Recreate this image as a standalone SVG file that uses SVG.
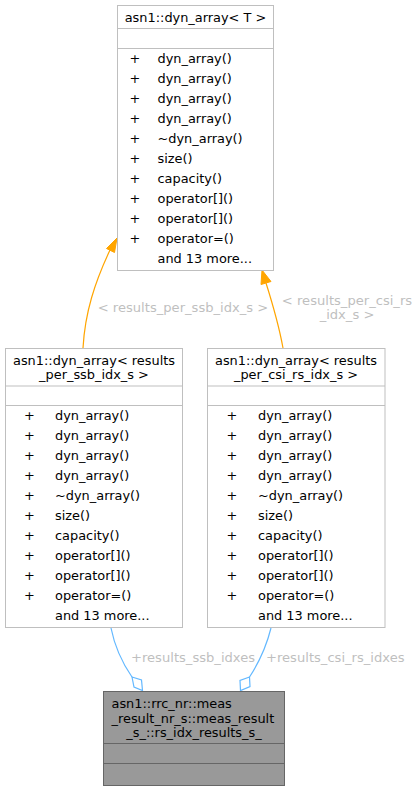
<svg xmlns="http://www.w3.org/2000/svg" width="418" height="791" viewBox="0 0 418 791">
<style>
text{font-family:"DejaVu Sans",sans-serif;font-size:12.9px;fill:#000}
.box{fill:#fff;stroke:#bfbfbf;stroke-width:1}
.sep{stroke:#bfbfbf;stroke-width:1}
.dark{fill:#999999;stroke:#666666;stroke-width:1}
.dsep{stroke:#666666;stroke-width:1}
.pl{text-anchor:middle}
.mid{text-anchor:middle}
.lbl{fill:#bfbfbf;font-size:13.1px}
.inh{fill:none;stroke:#ffa500;stroke-width:1.2}
.ah{fill:#ffa500;stroke:#ffa500}
.use{fill:none;stroke:#63b8ff;stroke-width:1.2}
.dia{fill:#fff;stroke:#63b8ff;stroke-width:1.2}
</style>
<g id="connectors">
<path class="inh" d="M83,348 C85,312 95,282 110,250"/>
<polygon class="ah" points="117,238 106.5,248.5 114.5,252.5"/>
<text class="lbl mid" x="183" y="312">&lt; results_per_ssb_idx_s &gt;</text>
<path class="inh" d="M283,348 C279,326 272,302 266,283"/>
<polygon class="ah" points="262,270 261,284.5 271,281.5"/>
<text class="lbl mid" x="347" y="305">&lt; results_per_csi_rs</text>
<text class="lbl mid" x="347" y="319">_idx_s &gt;</text>
<path class="use" d="M111,628 C115,648 123,664 132,677"/>
<polygon class="dia" points="132,677 141.5,680 142.5,690.5 134,687"/>
<text class="lbl" x="131" y="662">+results_ssb_idxes</text>
<path class="use" d="M271,628 C266,648 258,664 249.5,677"/>
<polygon class="dia" points="249.5,677 250,686.5 240.5,690.5 240,680.5"/>
<text class="lbl" x="266" y="662">+results_csi_rs_idxes</text>
</g>
<g id="node_dyn_array_T">
<rect class="box" x="117.5" y="5.5" width="156" height="265"/>
<line class="sep" x1="117.5" y1="28.5" x2="273.5" y2="28.5"/>
<line class="sep" x1="117.5" y1="48.5" x2="273.5" y2="48.5"/>
<text class="mid" x="195.5" y="22">asn1::dyn_array&lt; T &gt;</text>
<text class="pl" x="135" y="62.5">+</text><text x="157.5" y="62.5">dyn_array()</text>
<text class="pl" x="135" y="82.5">+</text><text x="157.5" y="82.5">dyn_array()</text>
<text class="pl" x="135" y="102.5">+</text><text x="157.5" y="102.5">dyn_array()</text>
<text class="pl" x="135" y="122.5">+</text><text x="157.5" y="122.5">dyn_array()</text>
<text class="pl" x="135" y="142.5">+</text><text x="157.5" y="142.5">~dyn_array()</text>
<text class="pl" x="135" y="162.5">+</text><text x="157.5" y="162.5">size()</text>
<text class="pl" x="135" y="182.5">+</text><text x="157.5" y="182.5">capacity()</text>
<text class="pl" x="135" y="202.5">+</text><text x="157.5" y="202.5">operator[]()</text>
<text class="pl" x="135" y="222.5">+</text><text x="157.5" y="222.5">operator[]()</text>
<text class="pl" x="135" y="242.5">+</text><text x="157.5" y="242.5">operator=()</text>
<text x="157.5" y="262.5">and 13 more...</text>
</g>
<g id="node_dyn_array_ssb">
<rect class="box" x="5.5" y="348.5" width="177" height="279"/>
<line class="sep" x1="5.5" y1="386" x2="182.5" y2="386"/>
<line class="sep" x1="5.5" y1="405.5" x2="182.5" y2="405.5"/>
<text x="13" y="364.5">asn1::dyn_array&lt; results</text>
<text class="mid" x="94" y="379">_per_ssb_idx_s &gt;</text>
<text class="pl" x="29.5" y="419.5">+</text><text x="55" y="419.5">dyn_array()</text>
<text class="pl" x="29.5" y="439.5">+</text><text x="55" y="439.5">dyn_array()</text>
<text class="pl" x="29.5" y="459.5">+</text><text x="55" y="459.5">dyn_array()</text>
<text class="pl" x="29.5" y="479.5">+</text><text x="55" y="479.5">dyn_array()</text>
<text class="pl" x="29.5" y="499.5">+</text><text x="55" y="499.5">~dyn_array()</text>
<text class="pl" x="29.5" y="519.5">+</text><text x="55" y="519.5">size()</text>
<text class="pl" x="29.5" y="539.5">+</text><text x="55" y="539.5">capacity()</text>
<text class="pl" x="29.5" y="559.5">+</text><text x="55" y="559.5">operator[]()</text>
<text class="pl" x="29.5" y="579.5">+</text><text x="55" y="579.5">operator[]()</text>
<text class="pl" x="29.5" y="599.5">+</text><text x="55" y="599.5">operator=()</text>
<text x="55" y="619.5">and 13 more...</text>
</g>
<g id="node_dyn_array_csi">
<rect class="box" x="207.5" y="348.5" width="177.5" height="279"/>
<line class="sep" x1="207.5" y1="386" x2="385" y2="386"/>
<line class="sep" x1="207.5" y1="405.5" x2="385" y2="405.5"/>
<text x="215" y="364.5">asn1::dyn_array&lt; results</text>
<text class="mid" x="296" y="379">_per_csi_rs_idx_s &gt;</text>
<text class="pl" x="232" y="419.5">+</text><text x="258" y="419.5">dyn_array()</text>
<text class="pl" x="232" y="439.5">+</text><text x="258" y="439.5">dyn_array()</text>
<text class="pl" x="232" y="459.5">+</text><text x="258" y="459.5">dyn_array()</text>
<text class="pl" x="232" y="479.5">+</text><text x="258" y="479.5">dyn_array()</text>
<text class="pl" x="232" y="499.5">+</text><text x="258" y="499.5">~dyn_array()</text>
<text class="pl" x="232" y="519.5">+</text><text x="258" y="519.5">size()</text>
<text class="pl" x="232" y="539.5">+</text><text x="258" y="539.5">capacity()</text>
<text class="pl" x="232" y="559.5">+</text><text x="258" y="559.5">operator[]()</text>
<text class="pl" x="232" y="579.5">+</text><text x="258" y="579.5">operator[]()</text>
<text class="pl" x="232" y="599.5">+</text><text x="258" y="599.5">operator=()</text>
<text x="258" y="619.5">and 13 more...</text>
</g>
<g id="node_rs_idx_results">
<rect class="dark" x="103.5" y="691.5" width="181" height="94"/>
<line class="dsep" x1="103.5" y1="743.5" x2="284.5" y2="743.5"/>
<line class="dsep" x1="103.5" y1="763.5" x2="284.5" y2="763.5"/>
<text x="111.5" y="707.5">asn1::rrc_nr::meas</text>
<text x="111.5" y="722.5">_result_nr_s::meas_result</text>
<text class="mid" x="194" y="737">_s_::rs_idx_results_s_</text>
</g>
</svg>
